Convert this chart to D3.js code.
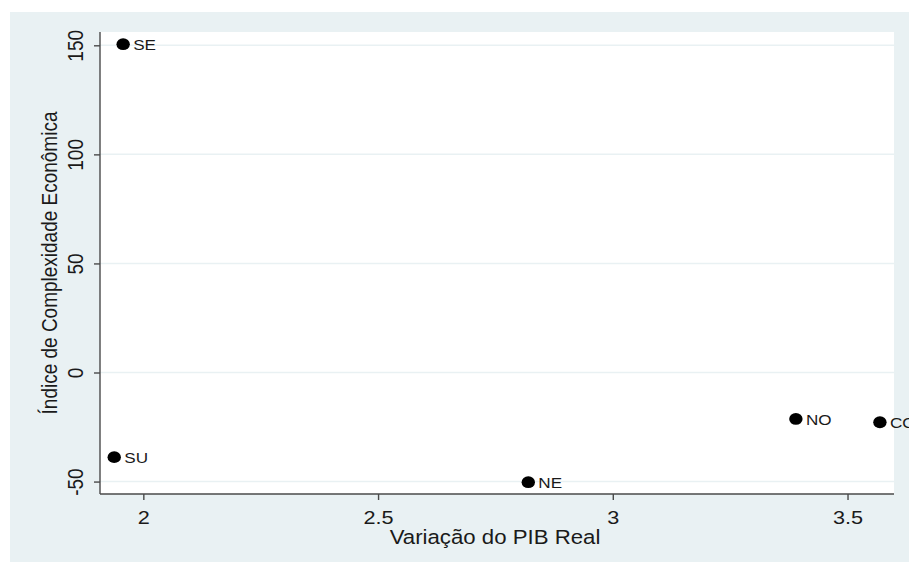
<!DOCTYPE html>
<html>
<head>
<meta charset="utf-8">
<script src="https://cdn.jsdelivr.net/npm/d3@7"></script>
<style>
  html, body { margin: 0; padding: 0; background: #ffffff; overflow: hidden; }
  svg { display: block; }
  text { font-family: "Liberation Sans", Arial, sans-serif; fill: #1a1a1a; }
</style>
</head>
<body>
<svg id="chart" width="909" height="562"></svg>
<script>
// Regions of Brazil: real GDP growth vs. economic complexity index
const regions = ["SE", "SU", "NE", "NO", "CO"];
const pibVariation = [1.957, 1.938, 2.820, 3.390, 3.569];
const complexityIndex = [150.5, -38.8, -50.3, -21.3, -22.8];
const xTicks = [2, 2.5, 3, 3.5];
const yTicks = [-50, 0, 50, 100, 150];

// Horizontal widening applied to glyphs and markers
const stretch = 1.14;

const svg = d3.select("#chart");

// Graph region (light blue-grey) and white plot region
const plot = { left: 100, right: 894, top: 32, bottom: 494 };
svg.append("rect").attr("x", 10).attr("y", 12).attr("width", 899).attr("height", 550)
  .attr("fill", "#e9f1f3");
svg.append("rect").attr("x", plot.left).attr("y", plot.top)
  .attr("width", plot.right - plot.left).attr("height", plot.bottom - plot.top)
  .attr("fill", "#ffffff");

const x = d3.scaleLinear().domain([1.9077, 3.599]).range([plot.left, plot.right]);
const y = d3.scaleLinear().domain([-55.7, 156.1]).range([plot.bottom, plot.top]);

// Horizontal gridlines
svg.append("g").selectAll("line").data(yTicks).join("line")
  .attr("x1", plot.left).attr("x2", plot.right)
  .attr("y1", d => y(d)).attr("y2", d => y(d))
  .attr("stroke", "#e9f1f3").attr("stroke-width", 1.5);

// Axes (plain hyphen for negative numbers)
const plainFormat = d => String(d);
const axisColor = "#4a4a4a";
const xAxis = svg.append("g").attr("transform", `translate(0,${plot.bottom})`)
  .call(d3.axisBottom(x).tickValues(xTicks).tickFormat(plainFormat).tickSizeInner(6).tickSizeOuter(0));
const yAxis = svg.append("g").attr("transform", `translate(${plot.left},0)`)
  .call(d3.axisLeft(y).tickValues(yTicks).tickFormat(plainFormat).tickSizeInner(6).tickSizeOuter(0));

[xAxis, yAxis].forEach(g => {
  g.select(".domain").attr("stroke", axisColor).attr("stroke-width", 1.4);
  g.selectAll(".tick line").attr("stroke", axisColor).attr("stroke-width", 1.4);
  g.selectAll(".tick text").attr("font-size", 19).attr("fill", "#1a1a1a")
    .style("font-family", "'Liberation Sans', Arial, sans-serif");
});
xAxis.select(".domain").attr("d", `M${plot.left},0H${plot.right}`);
yAxis.select(".domain").attr("d", `M0,${plot.top}V${plot.bottom}`);

// X tick labels: baseline below the axis, widened
xAxis.selectAll(".tick text")
  .attr("y", null).attr("dy", null)
  .attr("text-anchor", "middle")
  .attr("transform", `translate(0,30) scale(${stretch},1)`);

// Rotated y tick labels
yAxis.selectAll(".tick text")
  .attr("x", null).attr("dy", null)
  .attr("text-anchor", "middle")
  .attr("transform", `translate(-17,0) rotate(-90) scale(1,${stretch})`);

// Axis titles
svg.append("text")
  .attr("transform", `translate(${(plot.left + plot.right) / 2 - 2},543.5) scale(${stretch},1)`)
  .attr("text-anchor", "middle").attr("font-size", 19.5)
  .text("Variação do PIB Real");
svg.append("text")
  .attr("transform", `translate(57,${(plot.top + plot.bottom) / 2}) rotate(-90) scale(1,${stretch})`)
  .attr("text-anchor", "middle").attr("font-size", 19)
  .text("Índice de Complexidade Econômica");

// Points with labels
const data = regions.map((r, i) => ({ r, px: pibVariation[i], ic: complexityIndex[i] }));
const pts = svg.append("g");
pts.selectAll("ellipse").data(data).join("ellipse")
  .attr("cx", d => x(d.px)).attr("cy", d => y(d.ic))
  .attr("rx", 6.7).attr("ry", 5.9)
  .attr("fill", "#000000");
pts.selectAll("text").data(data).join("text")
  .attr("transform", d => `translate(${x(d.px) + 10},${y(d.ic) + 6}) scale(${stretch},1)`)
  .attr("font-size", 15).attr("fill", "#1a1a1a")
  .text(d => d.r);
</script>
</body>
</html>
